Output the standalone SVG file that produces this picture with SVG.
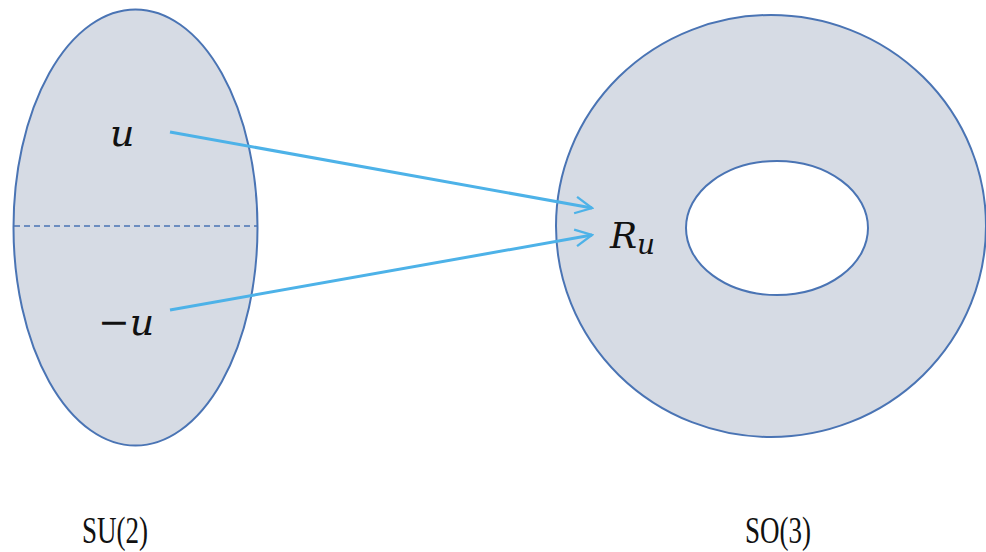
<svg xmlns="http://www.w3.org/2000/svg" width="986" height="552" viewBox="0 0 986 552">
<defs>
<style>
.shape{fill:#d6dbe4;stroke:#4a74b4;stroke-width:2}
.math{font-family:"DejaVu Serif","Liberation Serif",serif;font-style:italic;fill:#111}
.lbl{font-family:"Liberation Serif","DejaVu Serif",serif;fill:#111}
.arrow{stroke:#4db2e8;stroke-width:3;fill:none;marker-end:url(#ah)}
</style>
<marker id="ah" viewBox="0 0 12 12" refX="11" refY="6" markerWidth="20" markerHeight="20" markerUnits="userSpaceOnUse" orient="auto">
<path d="M1,1 L11,6 L1,11" fill="none" stroke="#4db2e8" stroke-width="1.4"/>
</marker>
</defs>
<g id="su2">
<ellipse class="shape" cx="135.5" cy="227.5" rx="122" ry="218"/>
<line x1="14" y1="226" x2="257" y2="226" stroke="#4a74b4" stroke-width="1.5" stroke-dasharray="6,4"/>
<text class="math" x="110" y="146" font-size="38">u</text>
<text class="math" x="98" y="335" font-size="38">−u</text>
<text class="lbl" x="82" y="543" font-size="38" textLength="66" lengthAdjust="spacingAndGlyphs">SU(2)</text>
</g>
<g id="so3">
<path class="shape" fill-rule="evenodd" d="M556,226 a215,211 0 1,0 430,0 a215,211 0 1,0 -430,0 Z M686,228 a91,67 0 1,0 182,0 a91,67 0 1,0 -182,0 Z"/>
<text class="math" x="610" y="248" font-size="36">R<tspan font-size="28" dy="6">u</tspan></text>
<text class="lbl" x="745" y="543" font-size="38" textLength="66" lengthAdjust="spacingAndGlyphs">SO(3)</text>
</g>
<g id="connectors">
<line class="arrow" x1="170" y1="132" x2="592" y2="208"/>
<line class="arrow" x1="170" y1="310" x2="592" y2="235"/>
</g>
</svg>
